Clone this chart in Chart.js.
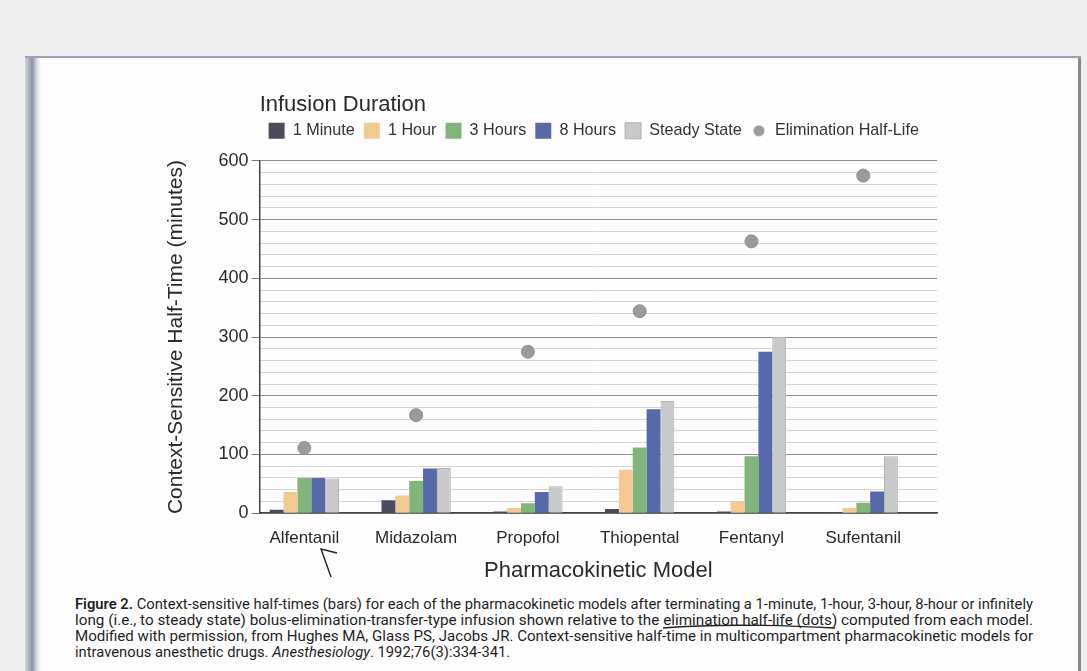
<!DOCTYPE html>
<html>
<head>
<meta charset="utf-8">
<script src="https://cdn.jsdelivr.net/npm/chart.js@4.4.1/dist/chart.umd.min.js"></script>
<style>
  html, body { margin: 0; padding: 0; }
  body { width: 1087px; height: 671px; background: #efefef; position: relative; overflow: hidden; font-family: "Liberation Sans", Arial, sans-serif; }
  #page { position: absolute; left: 25px; top: 56px; width: 1056px; height: 620px; background: #fefefe; border-top: 2px solid #a29fb5; }
  #edge { position: absolute; left: 25px; top: 58px; width: 16px; height: 620px; background: linear-gradient(to right, #d4d6dd, #8d94a6 45%, #dadce2 75%, #fefefe); }
  #rightedge { position: absolute; left: 1078px; top: 58px; width: 3px; height: 620px; background: #8a8a8a; }
  #wrap { position: absolute; left: 150px; top: 84px; width: 800px; height: 510px; }
  #caption { position: absolute; left: 75px; top: 596px; font-family: Roboto, "Liberation Sans", sans-serif; font-size: 14px; color: #1e1e1e; }
  #caption div { white-space: nowrap; height: 16px; line-height: 16px; }
  #caption span { display: inline-block; transform-origin: 0 50%; }
  #ink { position: absolute; left: 0; top: 0; }
</style>
</head>
<body>
<div id="page"></div>
<div id="edge"></div>
<div id="rightedge"></div>
<div id="wrap"><canvas id="myChart"></canvas></div>
<div id="caption">
  <div><span class="fit"><b style="font-weight:600">Figure 2.</b> Context-sensitive half-times (bars) for each of the pharmacokinetic models after terminating a 1-minute, 1-hour, 3-hour, 8-hour or infinitely</span></div>
  <div><span class="fit">long (i.e., to steady state) bolus-elimination-transfer-type infusion shown relative to the elimination half-life (dots) computed from each model.</span></div>
  <div><span class="fit">Modified with permission, from Hughes MA, Glass PS, Jacobs JR. Context-sensitive half-time in multicompartment pharmacokinetic models for</span></div>
  <div><span id="last">intravenous anesthetic drugs. <i>Anesthesiology</i>. 1992;76(3):334-341.</span></div>
</div>
<svg id="ink" width="1087" height="671">
  <path d="M331,577 L321,549 L337,553" fill="none" stroke="#222" stroke-width="1.4"/>
  <path d="M663,628 C700,625 760,624 835,628" fill="none" stroke="#222" stroke-width="1.3"/>
</svg>
<script>
const models = ["Alfentanil", "Midazolam", "Propofol", "Thiopental", "Fentanyl", "Sufentanil"];
const oneMinute = [6, 22, 3, 7, 3, 2];
const oneHour = [36, 30, 9, 74, 20, 9];
const threeHours = [60, 55, 17, 112, 97, 18];
const eightHours = [60, 76, 36, 177, 275, 37];
const steadyState = [59, 77, 46, 191, 300, 97];
const eliminationHalfLife = [111, 167, 275, 344, 463, 575];

function pts(arr) {
    return arr.map(function (v, i) { return { x: i, y: v }; });
}

// little grey dot for the legend entry
var dot = document.createElement("canvas");
dot.width = 16; dot.height = 16;
var dctx = dot.getContext("2d");
dctx.fillStyle = "#9b9b9b";
dctx.beginPath(); dctx.arc(8, 8, 5.5, 0, Math.PI * 2); dctx.fill();

// more room under the legend
const legendSpace = {
    id: "legendSpace",
    beforeInit: function (chart) {
        var fit = chart.legend.fit;
        chart.legend.fit = function () {
            fit.bind(chart.legend)();
            this.height += 12;
        };
    }
};

const txt = "#2a2a2a";

new Chart("myChart", {
    type: "bar",
    data: {
        datasets: [
            { label: "1 Minute", data: pts(oneMinute), backgroundColor: "#4b4c5e", pointStyle: "rect" },
            { label: "1 Hour", data: pts(oneHour), backgroundColor: "#f3c994", pointStyle: "rect" },
            { label: "3 Hours", data: pts(threeHours), backgroundColor: "#82b57c", pointStyle: "rect" },
            { label: "8 Hours", data: pts(eightHours), backgroundColor: "#5669a9", pointStyle: "rect" },
            { label: "Steady State", data: pts(steadyState), backgroundColor: "#c9c9c9", borderColor: "#b3b3b3", borderWidth: 1, pointStyle: "rect" },
            { type: "scatter", label: "Elimination Half-Life", data: pts(eliminationHalfLife),
              backgroundColor: "#9b9b9b", borderColor: "#8e8e8e", borderWidth: 1, pointRadius: 6.5, pointStyle: "circle" }
        ]
    },
    options: {
        responsive: true,
        maintainAspectRatio: false,
        animation: false,
        layout: { padding: { left: 0, right: 13, top: 2, bottom: 6 } },
        datasets: { bar: { categoryPercentage: 0.62, barPercentage: 1 } },
        plugins: {
            tooltip: { enabled: false },
            legend: {
                position: "top",
                align: "start",
                fullSize: false,
                title: {
                    display: true,
                    text: "Infusion Duration",
                    position: "start",
                    color: txt,
                    font: { family: "Liberation Sans", size: 22, lineHeight: 0.85 },
                    padding: { top: 8, bottom: 1 }
                },
                labels: {
                    usePointStyle: true,
                    boxWidth: 16,
                    boxHeight: 16,
                    padding: 9,
                    color: "#333",
                    font: { family: "Liberation Sans", size: 16.2 },
                    generateLabels: function (chart) {
                        var items = Chart.defaults.plugins.legend.labels.generateLabels(chart);
                        items[items.length - 1].pointStyle = dot;
                        return items;
                    }
                }
            }
        },
        scales: {
            x: {
                type: "linear",
                offset: false,
                min: -0.4,
                max: 5.66,
                afterBuildTicks: function (scale) {
                    scale.ticks = models.map(function (m, i) { return { value: i }; });
                },
                ticks: {
                    autoSkip: false,
                    maxRotation: 0,
                    padding: 7,
                    color: txt,
                    font: { family: "Liberation Sans", size: 17 },
                    callback: function (v) { return models[v]; }
                },
                grid: { display: false },
                border: { display: true, color: "#444", width: 1.5 },
                title: {
                    display: true,
                    text: "Pharmacokinetic Model",
                    color: txt,
                    font: { family: "Liberation Sans", size: 22 },
                    padding: { top: 2, bottom: 4 }
                }
            },
            y: {
                min: 0,
                max: 600,
                ticks: {
                    stepSize: 20,
                    autoSkip: false,
                    padding: 3,
                    color: txt,
                    font: { family: "Liberation Sans", size: 18 },
                    callback: function (v) { return v % 100 === 0 ? v : ""; }
                },
                grid: {
                    color: function (c) { return c.tick.value % 100 === 0 ? "#8c8c8c" : "#d3d3d3"; },
                    tickColor: function (c) { return c.tick.value % 100 === 0 ? "#777" : "rgba(0,0,0,0)"; },
                    tickLength: 8,
                    lineWidth: 1
                },
                border: { display: true, color: "#444", width: 1.5 },
                title: {
                    display: true,
                    text: "Context-Sensitive Half-Time (minutes)",
                    color: txt,
                    font: { family: "Liberation Sans", size: 21 },
                    padding: { top: 13.4, bottom: 27 }
                }
            }
        }
    },
    plugins: [legendSpace]
});

// stretch the caption lines to the justified width of the scan
var s0 = 1;
document.querySelectorAll("#caption .fit").forEach(function (el, i) {
    var s = 958 / el.getBoundingClientRect().width;
    if (i === 0) s0 = s;
    el.style.transform = "scaleX(" + s + ")";
});
document.getElementById("last").style.transform = "scaleX(" + s0 + ")";
</script>
</body>
</html>
